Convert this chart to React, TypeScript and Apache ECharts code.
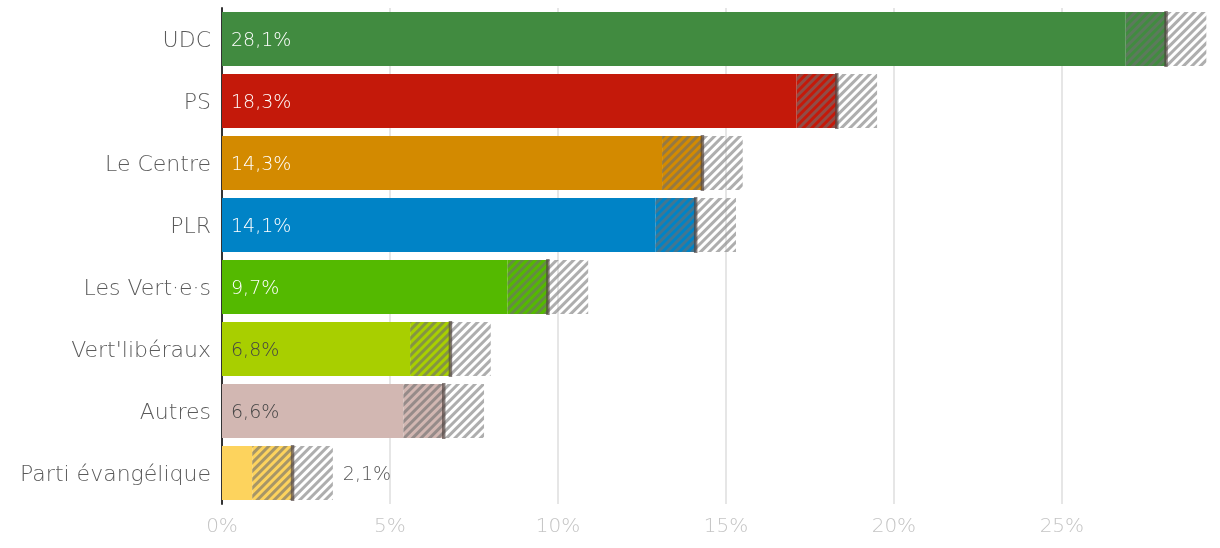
import React, { useEffect, useRef } from "react";
import * as echarts from "echarts";

const parties = ["UDC", "PS", "Le Centre", "PLR", "Les Vert·e·s", "Vert'libéraux", "Autres", "Parti évangélique"];
const values = [28.1, 18.3, 14.3, 14.1, 9.7, 6.8, 6.6, 2.1];
const lows = [26.9, 17.1, 13.1, 12.9, 8.5, 5.6, 5.4, 0.9];
const highs = [29.3, 19.5, 15.5, 15.3, 10.9, 8.0, 7.8, 3.3];
const colors = ["#418b40", "#c4190a", "#d38a00", "#0083c6", "#54b900", "#a8cf00", "#d2b7b2", "#fdd35d"];
const labelColors = ["#ffffff", "#ffffff", "#ffffff", "#ffffff", "#ffffff", "#444444", "#444444", "#555555"];
const insideLabel = [true, true, true, true, true, true, true, false];
const xTicks = [0, 5, 10, 15, 20, 25];

const FONT = "DejaVu Sans";
const W = 200;
const fmt = (v: number) => v.toFixed(1).replace(".", ",") + "%";

const hatch = (color: string) => ({
  symbol: "rect",
  symbolSize: 1,
  color,
  dashArrayX: [1, 0],
  dashArrayY: [2.5, 2.5],
  rotation: -Math.PI / 4,
});

export default function App() {
  const ref = useRef<HTMLDivElement>(null);
  useEffect(() => {
    if (!ref.current) return;
    const chart = echarts.init(ref.current, undefined, { renderer: "svg" });
    const axisMax = 29.35;
    chart.setOption({
      animation: false,
      textStyle: { fontFamily: FONT, fontWeight: W },
      grid: { left: 222, right: 12, top: 8, bottom: 44, containLabel: false },
      xAxis: {
        type: "value",
        min: 0,
        max: axisMax,
        interval: 5,
        axisLine: { show: false },
        axisTick: { show: false },
        splitLine: {
          show: true,
          lineStyle: {
            color: [...xTicks.map(() => "#e6e6e6"), "rgba(0,0,0,0)"],
            width: 2,
          },
        },
        axisLabel: {
          color: "#c4c4c4",
          fontSize: 20,
          fontFamily: FONT,
          fontWeight: W,
          margin: 11,
          formatter: (v: number) => (xTicks.includes(v) ? v + "%" : ""),
        },
      },
      yAxis: {
        type: "category",
        data: parties,
        inverse: true,
        axisLine: { show: true, lineStyle: { color: "#333333", width: 2 } },
        axisTick: { show: false },
        axisLabel: { color: "#5a5a5a", fontSize: 22, fontFamily: FONT, fontWeight: W, margin: 11 },
      },
      series: [
        {
          type: "bar",
          stack: "a",
          barCategoryGap: "13%",
          data: lows.map((l, i) => ({
            value: l,
            itemStyle: { color: colors[i] },
            label: {
              show: insideLabel[i],
              position: "insideLeft",
              distance: 9,
              formatter: fmt(values[i]),
              color: labelColors[i],
              fontSize: 19,
              fontFamily: FONT,
              fontWeight: W,
            },
          })),
        },
        {
          type: "bar",
          stack: "a",
          barCategoryGap: "13%",
          data: values.map((v, i) => ({
            value: +(v - lows[i]).toFixed(2),
            itemStyle: { color: colors[i], decal: hatch("rgba(110,110,110,0.6)") },
          })),
        },
        {
          type: "bar",
          stack: "a",
          barCategoryGap: "13%",
          data: highs.map((h, i) => ({
            value: +(h - values[i]).toFixed(2),
            itemStyle: { color: "rgba(255,255,255,0)", decal: hatch("rgba(140,140,140,0.7)") },
            label: {
              show: !insideLabel[i],
              position: "right",
              distance: 10,
              formatter: fmt(values[i]),
              color: labelColors[i],
              fontSize: 19,
              fontFamily: FONT,
              fontWeight: W,
            },
          })),
        },
        {
          type: "scatter",
          symbol: "rect",
          symbolSize: [3.5, 56],
          itemStyle: { color: "rgba(80,66,64,0.85)" },
          z: 5,
          data: values.map((v, i) => [v, parties[i]]),
        },
      ],
    });
    return () => chart.dispose();
  }, []);
  return (
    <div
      ref={ref}
      style={{ position: "fixed", left: 0, top: 0, width: 1220, height: 548 }}
    />
  );
}
